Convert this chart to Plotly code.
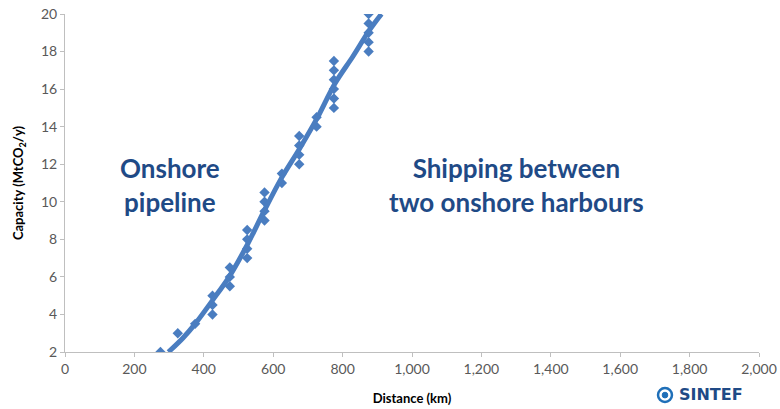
import plotly.graph_objects as go

# Data
distance_km = [275, 325, 375, 425, 425, 425, 475, 475, 475, 525, 525, 525, 525,
               575, 575, 575, 575, 625, 625, 675, 675, 675, 675, 725, 725,
               775, 775, 775, 775, 775, 775, 875, 875, 875, 875, 875]
capacity = [2.0, 3.0, 3.5, 4.0, 4.5, 5.0, 5.5, 6.0, 6.5, 7.0, 7.5, 8.0, 8.5,
            9.0, 9.5, 10.0, 10.5, 11.0, 11.5, 12.0, 12.5, 13.0, 13.5, 14.0, 14.5,
            15.0, 15.5, 16.0, 16.5, 17.0, 17.5, 18.0, 18.5, 19.0, 19.5, 20.0]
# polynomial trend line
trend_x = [298, 340, 375, 425, 473, 525, 575, 625, 675, 725, 778, 830, 876, 912]
trend_y = [2.0, 2.75, 3.5, 4.75, 6.0, 7.7, 9.55, 11.3, 12.8, 14.4, 16.3, 17.75, 19.1, 20.0]
x_ticks = [0, 200, 400, 600, 800, 1000, 1200, 1400, 1600, 1800, 2000]
y_ticks = [2, 4, 6, 8, 10, 12, 14, 16, 18, 20]

BLUE = "#4A7DC0"
TEXT_BLUE = "#1F4A86"
FONT = "Lato"

fig = go.Figure()
fig.add_trace(go.Scatter(x=distance_km, y=capacity, mode="markers",
                         marker=dict(symbol="diamond", size=8, color=BLUE),
                         cliponaxis=True, showlegend=False))
fig.add_trace(go.Scatter(x=trend_x, y=trend_y, mode="lines", line_shape="spline",
                         line=dict(color=BLUE, width=5), showlegend=False))

axis_common = dict(showgrid=False, zeroline=False, showline=True, linecolor="#BFBFBF",
                   linewidth=1, ticks="outside", ticklen=4, tickcolor="#BFBFBF",
                   automargin=False,
                   tickfont=dict(family=FONT, size=14, color="#595959"))
fig.update_xaxes(range=[0, 2000], tickvals=x_ticks, tickformat=",d",
                 title=dict(text="<b>Distance (km)</b>", standoff=18,
                            font=dict(family=FONT, size=13, color="#000000")),
                 **axis_common)
fig.update_yaxes(range=[2, 20], tickvals=y_ticks,
                 title=dict(text="<b>Capacity (MtCO<sub>2</sub>/y)</b>", standoff=14,
                            font=dict(family=FONT, size=13, color="#000000")),
                 **axis_common)

fig.add_annotation(x=303, y=10.9, xref="x", yref="y", text="<b>Onshore<br>pipeline</b>",
                   showarrow=False, font=dict(family=FONT, size=26, color=TEXT_BLUE))
fig.add_annotation(x=1300, y=10.9, xref="x", yref="y",
                   text="<b>Shipping between<br>two onshore harbours</b>",
                   showarrow=False, font=dict(family=FONT, size=26, color=TEXT_BLUE))

# SINTEF logo
fig.add_annotation(x=0.931, y=-0.127, xref="paper", yref="paper", xanchor="center",
                   yanchor="middle", text="<b>SINTEF</b>", showarrow=False,
                   font=dict(family="DejaVu Sans", size=16, color=TEXT_BLUE))
fig.add_shape(type="circle", xref="paper", yref="paper",
              x0=0.8545, x1=0.8746, y0=-0.148, y1=-0.1065,
              line=dict(color="#1F6FB8", width=2.5))
fig.add_shape(type="circle", xref="paper", yref="paper",
              x0=0.8605, x1=0.8686, y0=-0.136, y1=-0.119,
              fillcolor="#1F6FB8", line=dict(color="#1F6FB8", width=1))

fig.update_layout(width=780, height=409, margin=dict(l=65, r=21, t=14, b=57),
                  paper_bgcolor="white", plot_bgcolor="white",
                  font=dict(family=FONT))
fig.write_html("out.html", config={"displayModeBar": False},
               post_script="document.body.style.margin='0';")
